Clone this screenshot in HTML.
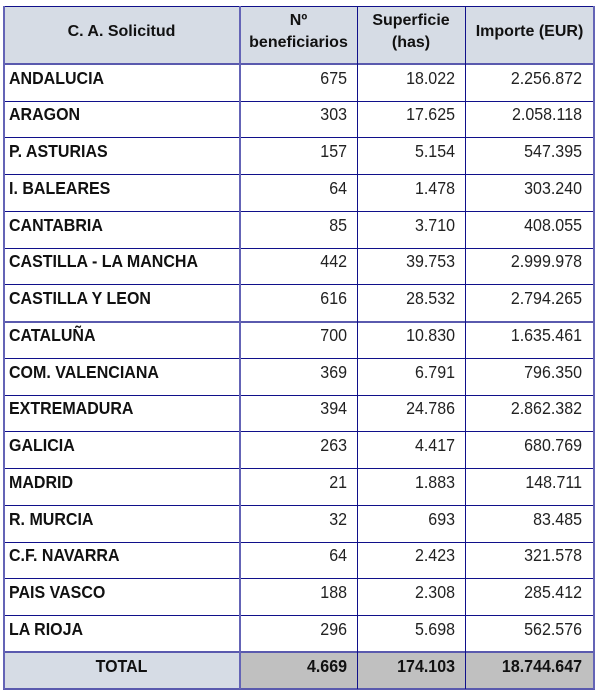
<!DOCTYPE html>
<html><head><meta charset="utf-8">
<style>
html,body{margin:0;padding:0;background:#fff;}
body{width:600px;height:700px;position:relative;overflow:hidden;font-family:"Liberation Sans",Arial,sans-serif;color:#111;}
.bg{position:absolute;}
.h{position:absolute;height:2px;background:#5a5aae;left:3px;width:592px;}
.hd{position:absolute;height:1px;background:#10108a;left:3px;width:592px;}
.v{position:absolute;width:2px;background:#6464b6;top:6px;height:683px;}
.vd{position:absolute;width:1px;background:#10108a;top:6px;height:683px;}
.row{position:absolute;left:0;width:600px;height:36.75px;}
.c{position:absolute;top:5.5px;font-size:16px;line-height:18px;white-space:nowrap;transform:scaleY(1.08);transform-origin:50% 20%;}
.n{left:9px;font-weight:bold;}
.a{right:253px;text-align:right;color:#222;}
.b{right:145px;text-align:right;color:#222;}
.d{right:18px;text-align:right;color:#222;}
.hdr{position:absolute;top:3px;height:58px;display:flex;align-items:center;justify-content:center;text-align:center;font-weight:bold;font-size:16px;line-height:22px;}
.tot .c{font-weight:bold;color:#111;}
</style></head><body>
<!-- header background -->
<div class="bg" style="left:3px;top:6px;width:591px;height:58px;background:#d6dce5;"></div>
<!-- total background -->
<div class="bg" style="left:3px;top:652px;width:237px;height:36px;background:#d6dce5;"></div>
<div class="bg" style="left:240px;top:652px;width:354px;height:36px;background:#c0c0c0;"></div>

<div class="hdr" style="left:3px;width:237px;">C. A. Solicitud</div>
<div class="hdr" style="left:240px;width:117px;">Nº<br>beneficiarios</div>
<div class="hdr" style="left:357px;width:108px;">Superficie<br>(has)</div>
<div class="hdr" style="left:465px;width:129px;">Importe (EUR)</div>

<div class="row" style="top:64px"><span class="c n">ANDALUCIA</span><span class="c a">675</span><span class="c b">18.022</span><span class="c d">2.256.872</span></div>
<div class="row" style="top:100.75px"><span class="c n">ARAGON</span><span class="c a">303</span><span class="c b">17.625</span><span class="c d">2.058.118</span></div>
<div class="row" style="top:137.5px"><span class="c n">P. ASTURIAS</span><span class="c a">157</span><span class="c b">5.154</span><span class="c d">547.395</span></div>
<div class="row" style="top:174.25px"><span class="c n">I. BALEARES</span><span class="c a">64</span><span class="c b">1.478</span><span class="c d">303.240</span></div>
<div class="row" style="top:211px"><span class="c n">CANTABRIA</span><span class="c a">85</span><span class="c b">3.710</span><span class="c d">408.055</span></div>
<div class="row" style="top:247.75px"><span class="c n">CASTILLA - LA MANCHA</span><span class="c a">442</span><span class="c b">39.753</span><span class="c d">2.999.978</span></div>
<div class="row" style="top:284.5px"><span class="c n">CASTILLA Y LEON</span><span class="c a">616</span><span class="c b">28.532</span><span class="c d">2.794.265</span></div>
<div class="row" style="top:321.25px"><span class="c n">CATALUÑA</span><span class="c a">700</span><span class="c b">10.830</span><span class="c d">1.635.461</span></div>
<div class="row" style="top:358px"><span class="c n">COM. VALENCIANA</span><span class="c a">369</span><span class="c b">6.791</span><span class="c d">796.350</span></div>
<div class="row" style="top:394.75px"><span class="c n">EXTREMADURA</span><span class="c a">394</span><span class="c b">24.786</span><span class="c d">2.862.382</span></div>
<div class="row" style="top:431.5px"><span class="c n">GALICIA</span><span class="c a">263</span><span class="c b">4.417</span><span class="c d">680.769</span></div>
<div class="row" style="top:468.25px"><span class="c n">MADRID</span><span class="c a">21</span><span class="c b">1.883</span><span class="c d">148.711</span></div>
<div class="row" style="top:505px"><span class="c n">R. MURCIA</span><span class="c a">32</span><span class="c b">693</span><span class="c d">83.485</span></div>
<div class="row" style="top:541.75px"><span class="c n">C.F. NAVARRA</span><span class="c a">64</span><span class="c b">2.423</span><span class="c d">321.578</span></div>
<div class="row" style="top:578.5px"><span class="c n">PAIS VASCO</span><span class="c a">188</span><span class="c b">2.308</span><span class="c d">285.412</span></div>
<div class="row" style="top:615.25px"><span class="c n">LA RIOJA</span><span class="c a">296</span><span class="c b">5.698</span><span class="c d">562.576</span></div>
<div class="row tot" style="top:652px"><span class="c" style="left:3px;width:237px;text-align:center;">TOTAL</span><span class="c a">4.669</span><span class="c b">174.103</span><span class="c d">18.744.647</span></div>

<!-- horizontal lines -->
<div class="hd" style="top:5.5px"></div>
<div class="h" style="top:63px"></div>
<div class="hd" style="top:100.5px"></div>
<div class="hd" style="top:137px"></div>
<div class="hd" style="top:174px"></div>
<div class="hd" style="top:210.5px"></div>
<div class="hd" style="top:247.5px"></div>
<div class="hd" style="top:284px"></div>
<div class="h" style="top:320.5px"></div>
<div class="hd" style="top:358px"></div>
<div class="hd" style="top:394.5px"></div>
<div class="hd" style="top:431px"></div>
<div class="hd" style="top:468px"></div>
<div class="hd" style="top:504.5px"></div>
<div class="hd" style="top:541.5px"></div>
<div class="hd" style="top:578px"></div>
<div class="hd" style="top:615px"></div>
<div class="h" style="top:651px"></div>
<div class="h" style="top:687.5px"></div>
<!-- vertical lines -->
<div class="v" style="left:2.5px"></div>
<div class="v" style="left:239px"></div>
<div class="vd" style="left:356.5px"></div>
<div class="vd" style="left:465px"></div>
<div class="v" style="left:592.5px"></div>
</body></html>
